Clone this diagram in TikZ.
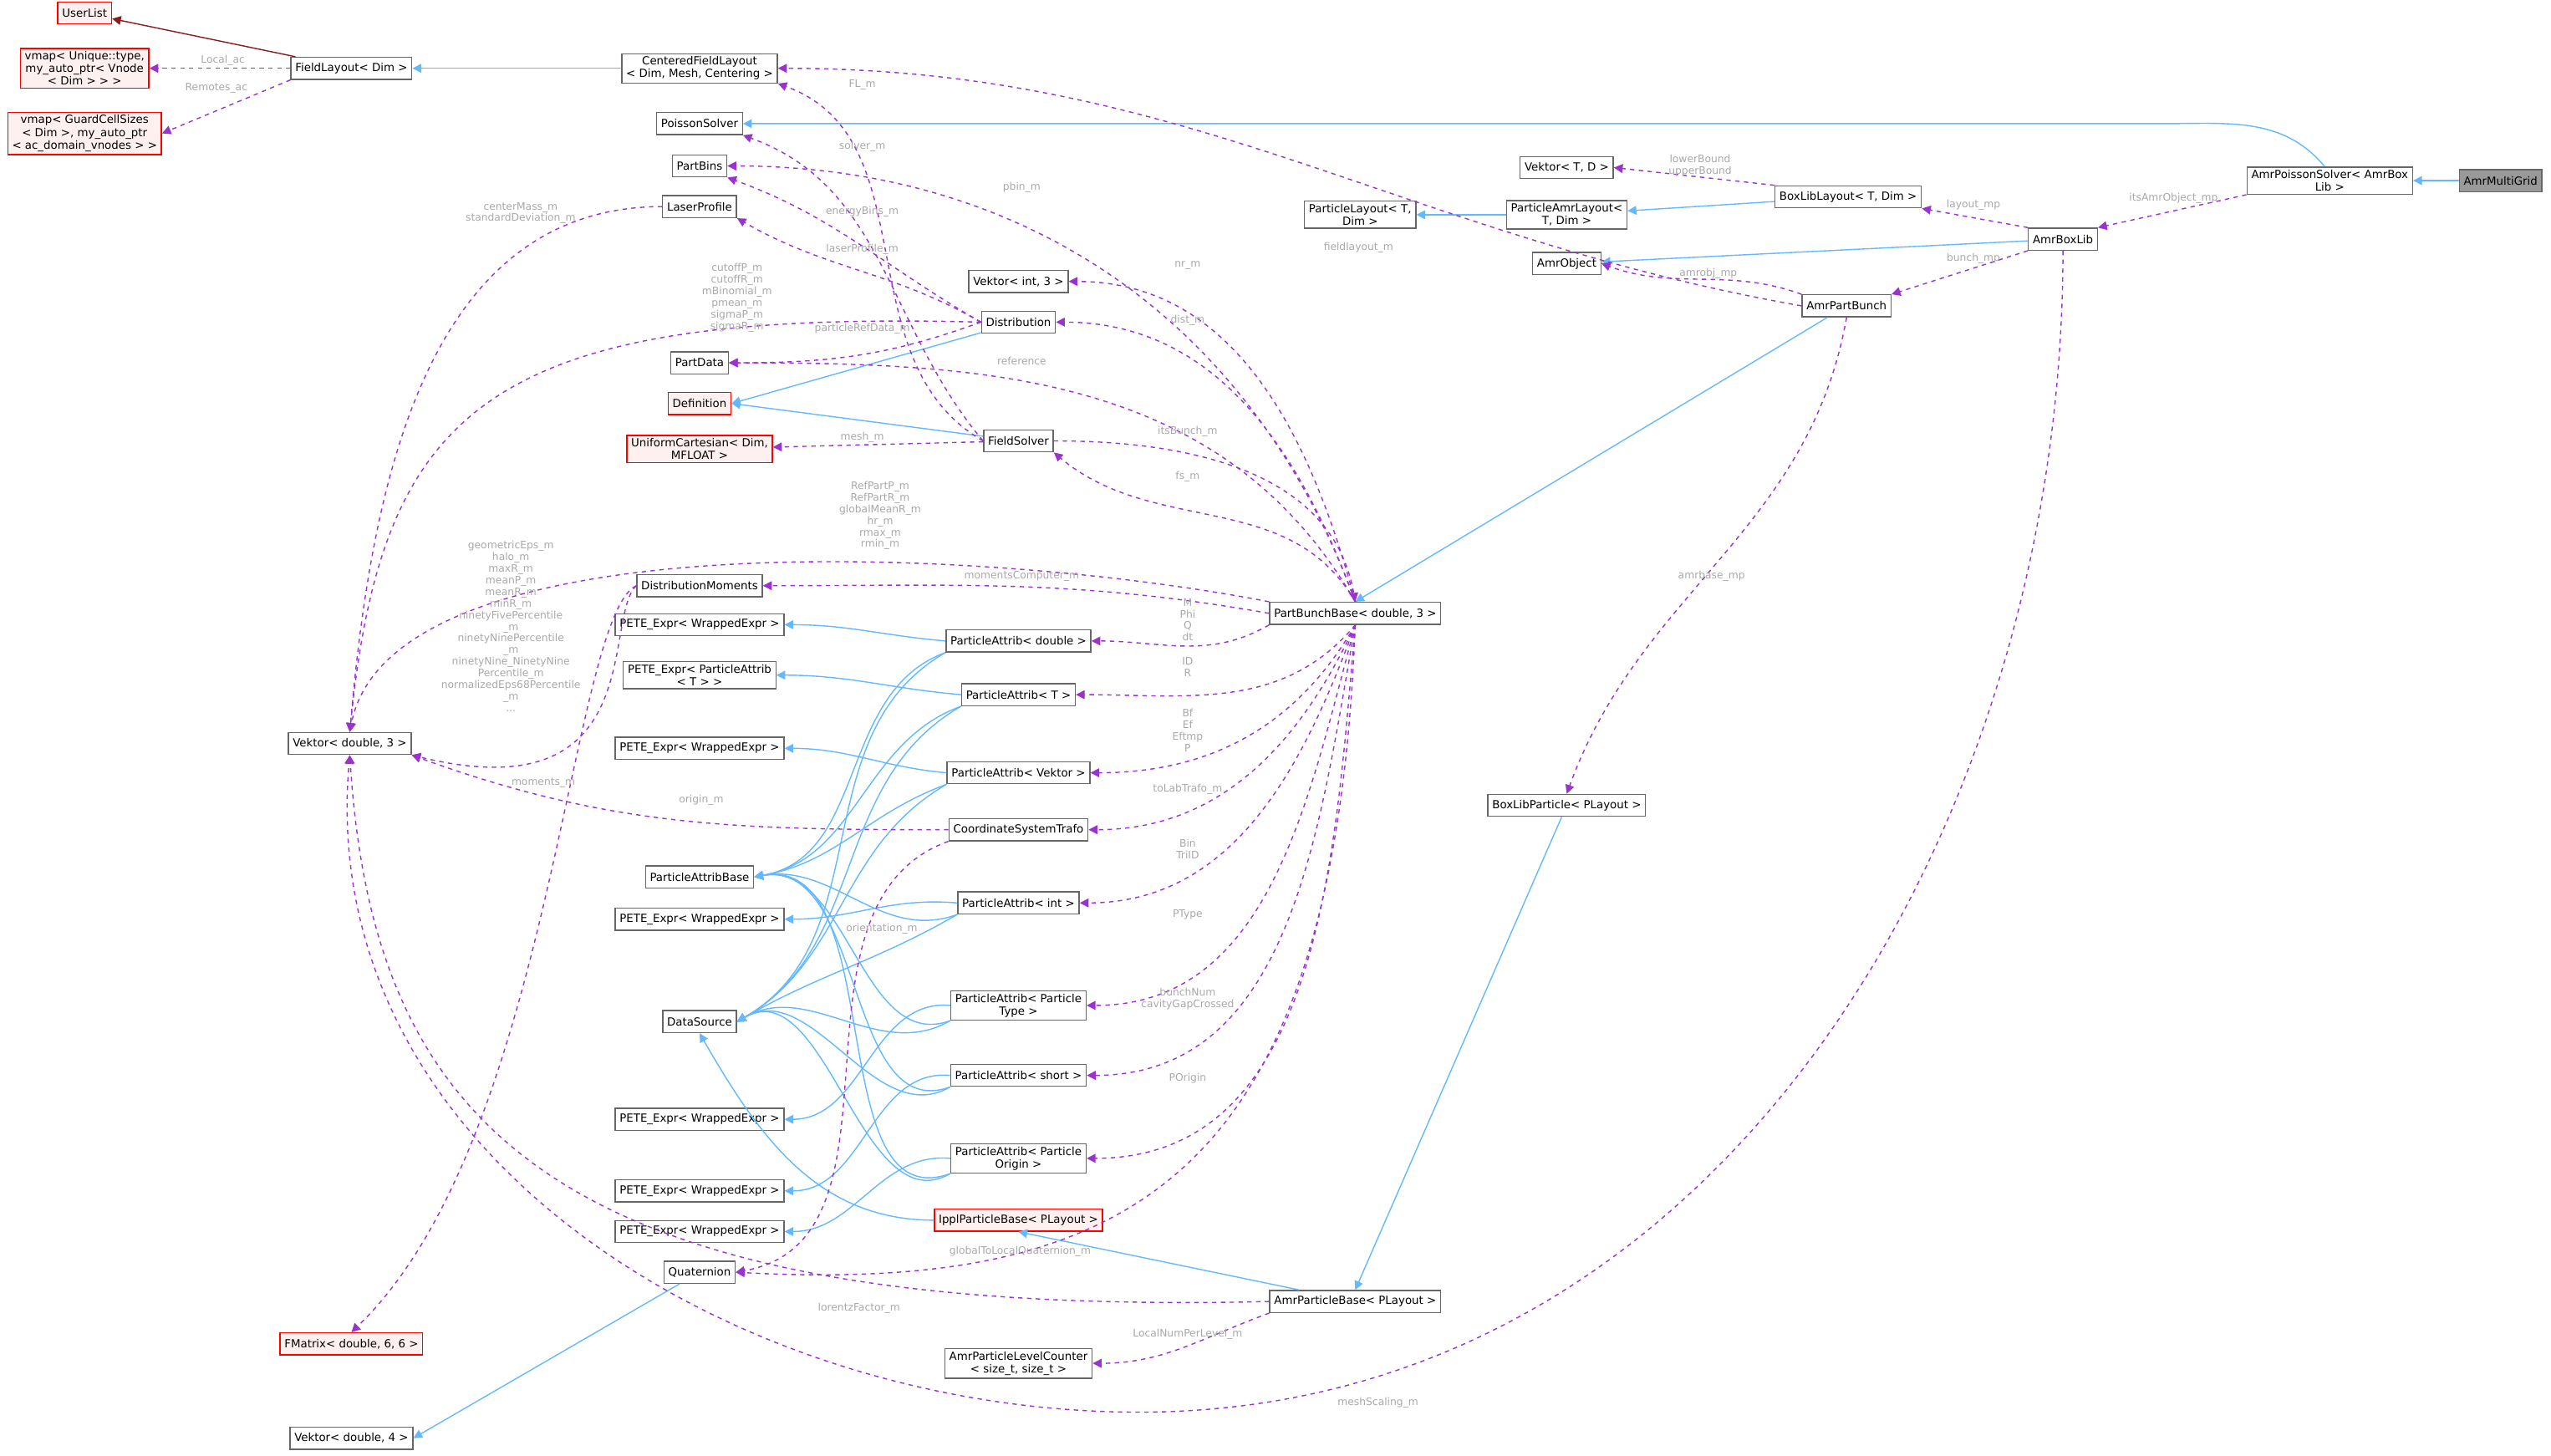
\documentclass[tikz,border=0pt]{standalone}
\usepackage{fontspec}
\setmainfont{DejaVu Sans}
\usepackage{tikz}
\usetikzlibrary{arrows.meta}

\definecolor{inhblue}{HTML}{63B8FF}
\definecolor{usepurple}{HTML}{9A32CD}
\definecolor{lblgrey}{HTML}{A8A8A8}
\definecolor{boxgrey}{HTML}{666666}
\definecolor{redfill}{HTML}{FFF0F0}
\definecolor{darkred}{HTML}{8B1A1A}

\tikzset{
  cls/.style={draw=boxgrey,fill=white,font=\fontsize{7.6}{8.6}\selectfont,
    inner xsep=3pt,inner ysep=2pt,minimum height=15pt,align=center},
  redcls/.style={cls,draw=red,fill=redfill},
  maincls/.style={cls,fill=black!40},
  inh/.style={draw=inhblue,-{Triangle[length=6pt,width=6pt]}},
  use/.style={draw=usepurple,dashed,-{Triangle[length=6pt,width=6pt]}},
  lbl/.style={text=lblgrey,font=\fontsize{7}{7.9}\selectfont,align=center,inner sep=0pt}
}

\begin{document}
\begin{tikzpicture}[x=0.03893cm,y=-0.03893cm,thick]
\useasboundingbox (0,0) rectangle (1568,894.5);

% left column
\node[redcls] (UserList) at (52,8) {UserList};
\node[redcls] (VmapU) at (52,42) {vmap< Unique::type,\\ my\_auto\_ptr< Vnode\\ < Dim > > >};
\node[redcls] (VmapG) at (52,82) {vmap< GuardCellSizes\\ < Dim >, my\_auto\_ptr\\ < ac\_domain\_vnodes > >};
\node[cls] (FieldLayout) at (216,42) {FieldLayout< Dim >};
\node[cls] (VekD3) at (215,457) {Vektor< double, 3 >};
\node[redcls] (FMatrix) at (216,826) {FMatrix< double, 6, 6 >};
\node[cls] (VekD4) at (216,884) {Vektor< double, 4 >};

% second column
\node[cls] (CFL) at (430,42) {CenteredFieldLayout\\ < Dim, Mesh, Centering >};
\node[cls] (Poisson) at (430,76) {PoissonSolver};
\node[cls] (PartBins) at (430,102) {PartBins};
\node[cls] (Laser) at (430,127) {LaserProfile};
\node[cls] (PartData) at (430,223) {PartData};
\node[redcls] (Definition) at (430,248) {Definition};
\node[redcls] (UniCart) at (430,276) {UniformCartesian< Dim,\\ MFLOAT >};
\node[cls] (DistMom) at (430,360) {DistributionMoments};
\node[cls] (PeteA) at (430,384) {PETE\_Expr< WrappedExpr >};
\node[cls] (PeteB) at (430,415) {PETE\_Expr< ParticleAttrib\\ < T > >};
\node[cls] (PeteC) at (430,460) {PETE\_Expr< WrappedExpr >};
\node[cls] (PABase) at (430,539) {ParticleAttribBase};
\node[cls] (PeteD) at (430,565) {PETE\_Expr< WrappedExpr >};
\node[cls] (DataSrc) at (430,628) {DataSource};
\node[cls] (PeteE) at (430,688) {PETE\_Expr< WrappedExpr >};
\node[cls] (PeteF) at (430,732) {PETE\_Expr< WrappedExpr >};
\node[cls] (PeteG) at (430,757) {PETE\_Expr< WrappedExpr >};
\node[cls] (Quat) at (430,782) {Quaternion};

% third column
\node[cls] (VekI3) at (626,173) {Vektor< int, 3 >};
\node[cls] (Dist) at (626,198) {Distribution};
\node[cls] (FSolver) at (626,271) {FieldSolver};
\node[cls] (PAdouble) at (626,394) {ParticleAttrib< double >};
\node[cls] (PAT) at (626,427) {ParticleAttrib< T >};
\node[cls] (PAVektor) at (626,475) {ParticleAttrib< Vektor >};
\node[cls] (CSTrafo) at (626,510) {CoordinateSystemTrafo};
\node[cls] (PAint) at (626,555) {ParticleAttrib< int >};
\node[cls] (PAType) at (626,618) {ParticleAttrib< Particle\\ Type >};
\node[cls] (PAshort) at (626,661) {ParticleAttrib< short >};
\node[cls] (PAOrigin) at (626,712) {ParticleAttrib< Particle\\ Origin >};
\node[redcls] (Ippl) at (626,750) {IpplParticleBase< PLayout >};
\node[cls] (LvlCount) at (626,838) {AmrParticleLevelCounter\\ < size\_t, size\_t >};

% right part
\node[cls] (PBB) at (833,377) {PartBunchBase< double, 3 >};
\node[cls] (AmrPBase) at (833,800) {AmrParticleBase< PLayout >};
\node[cls] (BLParticle) at (963,495) {BoxLibParticle< PLayout >};
\node[cls] (PLayout) at (836,132) {ParticleLayout< T,\\ Dim >};
\node[cls] (PAmrLayout) at (963,132) {ParticleAmrLayout<\\ T, Dim >};
\node[cls] (VekTD) at (963,103) {Vektor< T, D >};
\node[cls] (AmrObject) at (963,162) {AmrObject};
\node[cls] (BLLayout) at (1136,121) {BoxLibLayout< T, Dim >};
\node[cls] (AmrBoxLib) at (1268,147) {AmrBoxLib};
\node[cls] (AmrPBunch) at (1135,188) {AmrPartBunch};
\node[cls] (AmrPoisson) at (1432,111) {AmrPoissonSolver< AmrBox\\ Lib >};
\node[maincls] (AmrMG) at (1537,111) {AmrMultiGrid};

% free corner points of long connectors
\coordinate (meshBend) at (700,868);
\coordinate (topBend) at (1330,76);

% inheritance
\draw[darkred,-{Triangle[length=6pt,width=6pt]}] (FieldLayout) -- (UserList);
\draw[inh] (CFL) -- (FieldLayout);
\draw[inh] (AmrMG) -- (AmrPoisson);
\draw[inh] (AmrPoisson.110) to[out=130,in=0] (topBend) -- (Poisson);
\draw[inh] (Dist) -- (Definition.east);
\draw[inh] (FSolver) -- (Definition.east);
\draw[inh] (PAmrLayout) -- (PLayout);
\draw[inh] (BLLayout) -- (PAmrLayout);
\draw[inh] (AmrBoxLib) -- (AmrObject);
\draw[inh] (AmrPBunch) -- (PBB.north);
\draw[inh] (BLParticle) -- (AmrPBase.north);
\draw[inh] (AmrPBase) -- (Ippl.south);
\draw[inh] (Ippl.west) to[out=180,in=-60] (DataSrc.south);
\draw[inh] (Quat) -- (VekD4.east);
\foreach \pa/\pe in {PAdouble/PeteA,PAT/PeteB,PAVektor/PeteC,PAint/PeteD,
    PAType/PeteE,PAshort/PeteF,PAOrigin/PeteG}{
  \draw[inh] (\pa.west) to[out=175,in=0] (\pe.east);
  \draw[inh] (\pa.south west) to[out=200,in=10] (PABase.east);
  \draw[inh] (\pa.south west) to[out=210,in=30] (DataSrc.east);
}

% usage
\draw[use] (FieldLayout) -- (VmapU);
\draw[use] (FieldLayout.south west) -- (VmapG.east);
\draw[use] (FSolver.west) to[out=150,in=-20] (CFL.south east);
\draw[use] (AmrPBunch.west) to[out=170,in=0] (CFL.east);
\draw[use] (FSolver.west) to[out=130,in=-20] (Poisson.south east);
\draw[use] (PBB.north) to[out=110,in=0] (PartBins.east);
\draw[use] (Dist.west) to[out=150,in=-20] (PartBins.south east);
\draw[use] (Dist.west) to[out=150,in=-30] (Laser.south east);
\draw[use] (Laser.west) to[out=180,in=85] (VekD3.north);
\draw[use] (Dist.west) .. controls (300,190) and (235,250) .. (VekD3.north);
\draw[use] (Dist.west) to[out=200,in=0] (PartData.east);
\draw[use] (PBB.north) to[out=120,in=0] (PartData.east);
\draw[use] (FSolver) -- (UniCart);
\draw[use] (PBB.north) to[out=105,in=0] (VekI3.east);
\draw[use] (PBB.north) to[out=110,in=0] (Dist.east);
\draw[use] (FSolver.east) to[out=0,in=100] (PBB.north);
\draw[use] (PBB.north) to[out=120,in=-40] (FSolver.south east);
\draw[use] (PBB.north west) .. controls (600,335) and (240,320) .. (VekD3.north);
\draw[use] (PBB.west) to[out=170,in=0] (DistMom.east);
\draw[use] (DistMom.west) .. controls (370,380) and (400,500) .. (VekD3.south east);
\draw[use] (DistMom.west) .. controls (350,380) and (340,700) .. (FMatrix.north);
\draw[use] (CSTrafo.west) to[out=180,in=-20] (VekD3.south east);
\draw[use] (CSTrafo.south west) to[out=200,in=10] (Quat.east);
\draw[use] (PBB.south west) to[out=210,in=0] (PAdouble.east);
\draw[use] (PBB.south) to[out=230,in=0] (PAT.east);
\draw[use] (PBB.south) to[out=240,in=0] (PAVektor.east);
\draw[use] (PBB.south) to[out=245,in=0] (CSTrafo.east);
\draw[use] (PBB.south) to[out=250,in=0] (PAint.east);
\draw[use] (PBB.south) to[out=255,in=0] (PAType.east);
\draw[use] (PBB.south) to[out=260,in=0] (PAshort.east);
\draw[use] (PBB.south) to[out=265,in=0] (PAOrigin.east);
\draw[use] (PBB.south) .. controls (820,720) and (700,795) .. (Quat.east);
\draw[use] (AmrPBase.west) .. controls (350,810) and (230,700) .. (VekD3.south);
\draw[use] (AmrPBase.south west) to[out=200,in=0] (LvlCount.east);
\draw[use] (AmrBoxLib.south) to[out=-90,in=0] (meshBend) to[out=180,in=-95] (VekD3.south);
\draw[use] (AmrPBunch.south) to[out=-100,in=70] (BLParticle.north);
\draw[use] (AmrPBunch.north west) to[out=160,in=-20] (AmrObject.east);
\draw[use] (AmrBoxLib.south west) -- (AmrPBunch.north east);
\draw[use] (AmrBoxLib.north west) -- (BLLayout.south east);
\draw[use] (AmrPoisson.south west) -- (AmrBoxLib.north east);
\draw[use] (BLLayout.north west) -- (VekTD.east);

% connector labels
\node[lbl] (lLocal) at (137,37) {Local\_ac};
\node[lbl] (lRemotes) at (133,54) {Remotes\_ac};
\node[lbl] (lFL) at (530,52) {FL\_m};
\node[lbl] (lSolver) at (530,90) {solver\_m};
\node[lbl] (lPbin) at (628,115) {pbin\_m};
\node[lbl] (lEnergy) at (530,130) {energyBins\_m};
\node[lbl] (lLaser) at (530,153) {laserProfile\_m};
\node[lbl] (lCenter) at (320,131) {centerMass\_m\\ standardDeviation\_m};
\node[lbl] (lCutoff) at (453,183) {cutoffP\_m\\ cutoffR\_m\\ mBinomial\_m\\ pmean\_m\\ sigmaP\_m\\ sigmaR\_m};
\node[lbl] (lRefData) at (530,202) {particleRefData\_m};
\node[lbl] (lRef) at (628,222) {reference};
\node[lbl] (lMesh) at (530,269) {mesh\_m};
\node[lbl] (lNr) at (730,163) {nr\_m};
\node[lbl] (lDist) at (730,197) {dist\_m};
\node[lbl] (lBunch) at (730,265) {itsBunch\_m};
\node[lbl] (lFs) at (730,293) {fs\_m};
\node[lbl] (lRefPart) at (541,317) {RefPartP\_m\\ RefPartR\_m\\ globalMeanR\_m\\ hr\_m\\ rmax\_m\\ rmin\_m};
\node[lbl] (lMomComp) at (628,354) {momentsComputer\_m};
\node[lbl] (lGeom) at (314,385) {geometricEps\_m\\ halo\_m\\ maxR\_m\\ meanP\_m\\ meanR\_m\\ minR\_m\\ ninetyFivePercentile\\ \_m\\ ninetyNinePercentile\\ \_m\\ ninetyNine\_NinetyNine\\ Percentile\_m\\ normalizedEps68Percentile\\ \_m\\ ...};
\node[lbl] (lMoments) at (334,481) {moments\_m};
\node[lbl] (lOrigin) at (431,492) {origin\_m};
\node[lbl] (lMPhi) at (730,381) {M\\ Phi\\ Q\\ dt};
\node[lbl] (lID) at (730,410) {ID\\ R};
\node[lbl] (lBf) at (730,449) {Bf\\ Ef\\ Eftmp\\ P};
\node[lbl] (lToLab) at (730,485) {toLabTrafo\_m};
\node[lbl] (lBin) at (730,522) {Bin\\ TriID};
\node[lbl] (lPType) at (730,562) {PType};
\node[lbl] (lBunchNum) at (730,614) {bunchNum\\ cavityGapCrossed};
\node[lbl] (lPOrigin) at (730,663) {POrigin};
\node[lbl] (lOrient) at (542,571) {orientation\_m};
\node[lbl] (lQuat) at (627,769) {globalToLocalQuaternion\_m};
\node[lbl] (lLorentz) at (528,804) {lorentzFactor\_m};
\node[lbl] (lLocalNum) at (730,820) {LocalNumPerLevel\_m};
\node[lbl] (lMeshSc) at (847,862) {meshScaling\_m};
\node[lbl] (lBound) at (1045,102) {lowerBound\\ upperBound};
\node[lbl] (lLayout) at (1213,126) {layout\_mp};
\node[lbl] (lAmrObj) at (1336,122) {itsAmrObject\_mp};
\node[lbl] (lBunchMp) at (1213,159) {bunch\_mp};
\node[lbl] (lAmrobj) at (1050,168) {amrobj\_mp};
\node[lbl] (lFieldL) at (835,152) {fieldlayout\_m};
\node[lbl] (lAmrBase) at (1052,354) {amrbase\_mp};
\end{tikzpicture}
\end{document}
